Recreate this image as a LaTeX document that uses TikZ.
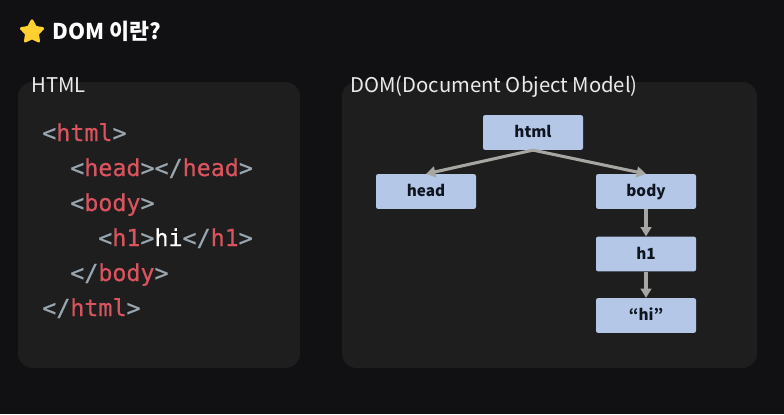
\documentclass[tikz,border=0pt]{standalone}
\usepackage{fontspec}
\setmainfont{Noto Sans CJK KR}
\setmonofont[FakeBold=0.5]{DejaVu Sans Mono}
\usetikzlibrary{arrows.meta,shapes.geometric}

\definecolor{pagebg}{HTML}{111113}
\definecolor{panelbg}{HTML}{1E1E1E}
\definecolor{boxblue}{HTML}{B4C7E7}
\definecolor{boxtext}{HTML}{0E1420}
\definecolor{linkgray}{HTML}{A6A6A2}
\definecolor{tagred}{HTML}{D9545F}
\definecolor{tagmark}{HTML}{9AA6AF}
\definecolor{stargold}{HTML}{FFD02F}

\newcommand{\tm}[1]{\textcolor{tagmark}{#1}}
\newcommand{\tr}[1]{\textcolor{tagred}{#1}}

\begin{document}
\begin{tikzpicture}[x=0.75pt,y=-0.75pt,
    panel/.style={fill=panelbg, rounded corners=11pt},
    treebox/.style={fill=boxblue, rounded corners=1.5pt, minimum width=75pt, minimum height=26pt,
        inner sep=0pt, text height=9.6pt, text depth=1.4pt, text=boxtext, font=\fontsize{11.5}{13}\selectfont\bfseries},
    link/.style={draw=linkgray, line width=2.3pt, -{Triangle[length=7pt,width=8pt]}},
    codeline/.style={anchor=base west, inner sep=0pt, font=\fontsize{17.5}{20}\ttfamily},
    heading/.style={anchor=base west, inner sep=0pt, text=white!92!black, font=\fontsize{15.2}{18}\selectfont}]

    \fill[pagebg] (0,0) rectangle (784,414);
    \fill[panel] (18,82) rectangle (300,368);
    \fill[panel] (342,82) rectangle (757,368);

    % title
    \node[star, star points=5, star point ratio=1.9, minimum size=17pt, inner sep=0pt, fill=stargold,
        draw=stargold, line join=round, line width=2pt] (titlestar) at (32,32) {};
    \node[heading, text=white, font=\fontsize{16.3}{19}\selectfont\bfseries] (title) at (52.5,39) {DOM 이란?};

    \node[heading] (htmllabel) at (31,92) {HTML};
    \node[heading] (domlabel) at (350,92) {DOM(Document Object Model)};

    % html source
    \node[codeline] (line1) at (42,141) {\tm{<}\tr{html}\tm{>}};
    \node[codeline] (line2) at (70,176) {\tm{<}\tr{head}\tm{></}\tr{head}\tm{>}};
    \node[codeline] (line3) at (70,211) {\tm{<}\tr{body}\tm{>}};
    \node[codeline] (line4) at (98,246) {\tm{<}\tr{h1}\tm{>}\textcolor{white}{hi}\tm{</}\tr{h1}\tm{>}};
    \node[codeline] (line5) at (70,281) {\tm{</}\tr{body}\tm{>}};
    \node[codeline] (line6) at (42,316) {\tm{</}\tr{html}\tm{>}};

    % tree
    \node[treebox] (html) at (533,132.5) {html};
    \node[treebox] (head) at (426,191.5) {head};
    \node[treebox] (body) at (646,191.5) {body};
    \node[treebox] (h1) at (646,254) {h1};
    \node[treebox] (hi) at (646,315.5) {“hi”};

    \draw[link] (html.south) -- (head.north);
    \draw[link] (html.south) -- (body.north);
    \draw[link] (body) -- (h1);
    \draw[link] (h1) -- (hi);
\end{tikzpicture}
\end{document}
